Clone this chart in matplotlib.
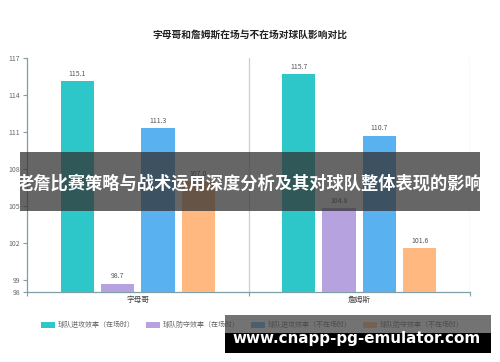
import matplotlib as mpl
mpl.use('Agg')
import matplotlib.pyplot as plt
import numpy as np
from matplotlib.patches import Patch, Rectangle

plt.rcParams['font.family'] = ['Noto Sans CJK SC', 'DejaVu Sans']

players = ['字母哥', '詹姆斯']
series = ['球队进攻效率（在场时）', '球队防守效率（在场时）',
          '球队进攻效率（不在场时）', '球队防守效率（不在场时）']
off_on = [115.1, 115.7]
def_on = [98.7, 104.8]
off_off = [111.3, 110.7]
def_off = [107.0, 101.6]
yticks = [98, 99, 102, 105, 108, 111, 114, 117]

colors = ['#2ec7c9', '#b6a2de', '#5ab1ef', '#ffb980']
axis_col = '#7f9ea6'

fig = plt.figure(figsize=(5, 3.62), dpi=100)
ax = fig.add_axes([0.054, 0.193, 0.886, 0.647])

x = np.arange(len(players))
step = 0.182
width = 0.15
for i, vals in enumerate([off_on, def_on, off_off, def_off]):
    pos = x + (i - 1.5) * step
    bars = ax.bar(pos, [v - 98 for v in vals], width, bottom=98,
                  color=colors[i], zorder=3)
    for b, v in zip(bars, vals):
        ax.text(b.get_x() + b.get_width() / 2, v + 0.25, f'{v:.1f}',
                ha='center', va='bottom', fontsize=5, color='#555555', zorder=4)

ax.set_xlim(-0.5, 1.5)
ax.set_ylim(98, 117)
ax.set_yticks(yticks)
ax.set_yticklabels([str(t) for t in yticks], fontsize=5, color='#666666')
ax.set_xticks([-0.5, 0.5, 1.5])
ax.set_xticklabels([])
ax.set_xticks(x, minor=True)
ax.set_xticklabels(players, minor=True, fontsize=5.5, color='#444444')
ax.tick_params(axis='x', which='minor', length=0, pad=3)
ax.tick_params(axis='x', which='major', length=3, color=axis_col)
ax.tick_params(axis='y', length=3, color=axis_col, pad=2)

for s in ['top', 'right']:
    ax.spines[s].set_visible(False)
for s in ['left', 'bottom']:
    ax.spines[s].set_color(axis_col)
    ax.spines[s].set_linewidth(0.9)
for xv in [0.5, 1.5]:
    ax.axvline(xv, color='#c4d2d5', lw=0.9, zorder=1)

fig.text(0.5, 1 - 35 / 362, '字母哥和詹姆斯在场与不在场对球队影响对比',
         ha='center', va='center', fontsize=7, fontweight='bold', color='#222222')

handles = [Patch(facecolor=c, edgecolor='none') for c in colors]
fig.legend(handles, series, loc='center', bbox_to_anchor=(0.505, 1 - 325 / 362),
           ncol=4, frameon=False, fontsize=5, handlelength=2.0, handleheight=1.0,
           columnspacing=1.6, handletextpad=0.4, labelcolor='#666666')

# banner overlay
fig.patches.append(Rectangle((20 / 500, 1 - 211 / 362), 460 / 500, 59 / 362,
                             transform=fig.transFigure, facecolor='#333333',
                             alpha=0.75, edgecolor='none', zorder=10))
fig.text(0.499, 1 - 184 / 362, '老詹比赛策略与战术运用深度分析及其对球队整体表现的影响',
         ha='center', va='center', fontsize=12.4, fontweight='bold', color='white',
         zorder=11)

# watermark
fig.patches.append(Rectangle((225 / 500, 1 - 333 / 362), 266 / 500, 18 / 362,
                             transform=fig.transFigure, facecolor='#444444',
                             alpha=0.75, edgecolor='none', zorder=10))
fig.patches.append(Rectangle((225 / 500, 1 - 353 / 362), 266 / 500, 20 / 362,
                             transform=fig.transFigure, facecolor='black',
                             edgecolor='none', zorder=10))
fig.text(357 / 500, 1 - 338 / 362, 'www.cnapp-pg-emulator.com', ha='center',
         va='center', fontsize=10.9, fontweight='bold', color='white',
         family='DejaVu Sans', zorder=11)

fig.savefig('out.png', dpi=100)
